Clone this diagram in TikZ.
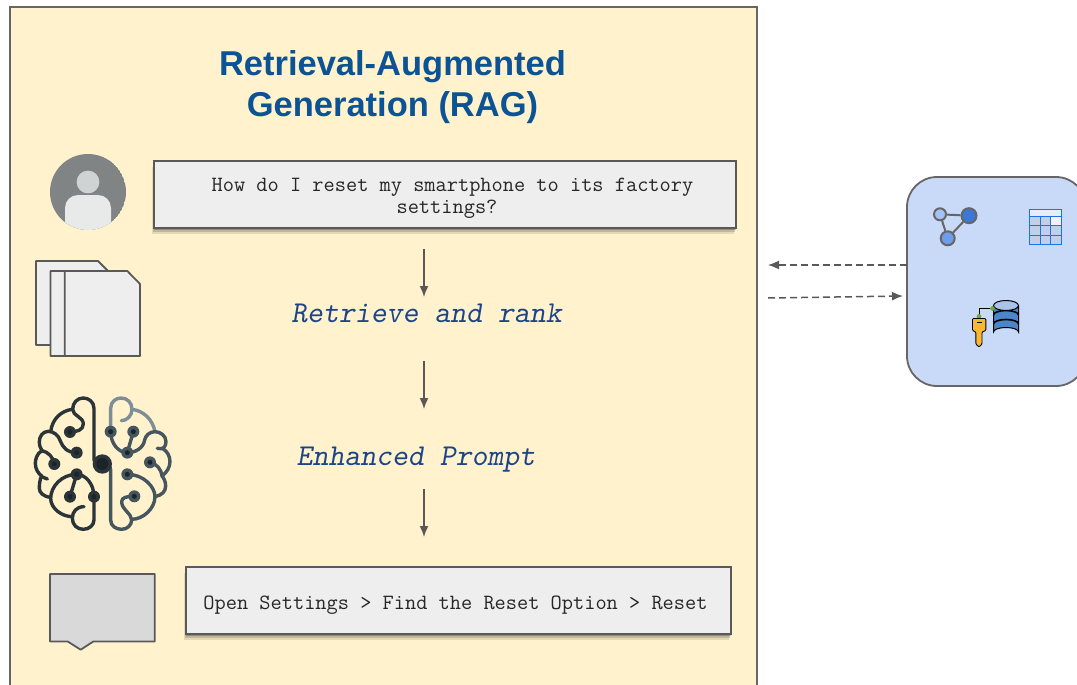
\documentclass[tikz,border=0pt]{standalone}
\usepackage{fontspec}
\setmainfont{Liberation Sans}
\usepackage{xcolor}
\usetikzlibrary{arrows.meta, shadows}
\definecolor{panelfill}{HTML}{FFF2CC}
\definecolor{storefill}{HTML}{C9DAF8}
\definecolor{edgegray}{HTML}{595959}
\definecolor{boxfill}{HTML}{EEEEEE}
\definecolor{titleblue}{HTML}{0B5394}
\definecolor{stepblue}{HTML}{1C4587}
\definecolor{brainA}{HTML}{2B3438}
\definecolor{brainB}{HTML}{46565F}
\definecolor{brainC}{HTML}{7D8E99}
\definecolor{braindot}{HTML}{1B2428}
\definecolor{tableblue}{HTML}{1A73E8}
\definecolor{avatargray}{HTML}{808484}
\definecolor{avatarhead}{HTML}{D0D3D3}
\definecolor{avatarbody}{HTML}{E8EAEA}
\definecolor{nodelight}{HTML}{A4C2F4}
\definecolor{nodemid}{HTML}{6D9EEB}
\definecolor{nodedark}{HTML}{3C78D8}
\definecolor{keyyellow}{HTML}{FAB832}
\definecolor{dbblue}{HTML}{4A86C8}
\definecolor{dbtop}{HTML}{A8C4E8}
\definecolor{cellblue}{HTML}{C1D0E8}
\definecolor{plug}{HTML}{6AA84F}
\tikzset{
    softshadow/.style={
        drop shadow={shadow xshift=-.5pt,shadow yshift=-1.5pt,opacity=.22,fill=black},
        drop shadow={shadow xshift=-1.5pt,shadow yshift=-3.5pt,opacity=.16,fill=black},
        drop shadow={shadow xshift=-2.5pt,shadow yshift=-6pt,opacity=.10,fill=black}
    },
    textbox/.style={draw=edgegray,line width=1.8pt,fill=boxfill,softshadow,
        font=\ttfamily\fontsize{21.75}{22}\selectfont,text=black!85,align=center,inner sep=0pt},
    steplabel/.style={font=\ttfamily\slshape\fontsize{30.3}{30}\selectfont,text=stepblue},
    flowarrow/.style={draw=edgegray,line width=1.5pt,-{Latex[length=11pt,width=9pt]}},
    dashflow/.style={draw=edgegray,line width=1.5pt,dash pattern=on 7pt off 4pt,-{Latex[length=11pt,width=9pt]}},
    page/.style={draw=edgegray,line width=1.8pt,fill=boxfill,line join=round},
    gnode/.style={circle,draw=black!60,line width=2pt,inner sep=0pt},
    gedge/.style={draw=black!60,line width=2pt},
    brainpath/.style={line width=3.4pt,line cap=round,line join=round},
    tablecell/.style={draw=tableblue,line width=1.2pt}
}
\begin{document}
\begin{tikzpicture}[x=1pt,y=-1pt]
\useasboundingbox (0,0) rectangle (1077,685);
\clip (0,0) rectangle (1077,685);

% Panels
\fill[white] (0,0) rectangle (1077,685);
\draw[draw=black!60,line width=1.8pt,fill=panelfill] (10,7) rectangle (757,705);
\draw[draw=black!60,line width=1.8pt,fill=storefill,rounded corners=30pt] (907,177) rectangle (1086,386);

% Title and boxes
\node[font=\bfseries\fontsize{34.5}{41}\selectfont,text=titleblue,align=center] (title) at (392.5,87) {Retrieval-Augmented\\Generation (RAG)};
\node[textbox,minimum width=582pt,minimum height=67pt,text height=41.6pt,text depth=4.6pt] (ask) at (445,194.5) {\hspace*{15pt}How do I reset my smartphone to its factory\\\hspace*{4pt}settings?};
\node[steplabel] (retrieve) at (426.5,313) {Retrieve and rank};
\node[steplabel] (enhanced) at (416,459.5) {Enhanced Prompt};
\node[textbox,minimum width=545pt,minimum height=67pt,text height=22pt,text depth=4.6pt] (answer) at (458.5,600.5) {\hspace*{-6pt}Open Settings > Find the Reset Option > Reset};

% Arrows
\coordinate (flowa) at (424,249);
\coordinate (flowb) at (424,297);
\coordinate (flowc) at (424,361);
\coordinate (flowd) at (424,409);
\coordinate (flowe) at (424,489);
\coordinate (flowf) at (424,537);
\draw[flowarrow](flowa)--(flowb);
\draw[flowarrow](flowc)--(flowd);
\draw[flowarrow](flowe)--(flowf);
\coordinate (storeout) at (907,265);
\coordinate (panelin) at (768,265);
\coordinate (panelout) at (768,298);
\coordinate (storein) at (903,296);
\draw[dashflow](storeout)--(panelin);
\draw[dashflow](panelout)--(storein);

% User icon
\begin{scope}
\clip (88,192) circle (38);
\fill[avatargray] (88,192) circle (38);
\fill[avatarbody,rounded corners=13pt] (65,240) -- (65,195) -- (111,195) -- (111,240) -- cycle;
\end{scope}
\fill[avatarhead] (88,182) circle (11.4);

% Documents
\draw[page] (36,261) -- (98,261) -- (111,274) -- (111,345) -- (36,345) -- cycle;
\draw[page] (50.5,271) -- (113,271) -- (125.5,284) -- (125.5,356) -- (50.5,356) -- cycle;
\draw[page] (64.7,271) -- (127.3,271) -- (140,284) -- (140,356) -- (64.7,356) -- cycle;

% Brain
\begin{scope}[shift={(20,380)},x=0.3333pt,y=-0.3333pt]
\draw[brainpath,brainA] (222,350) -- (222,420) .. controls (222,435) and (208,448) .. (190,448) .. controls (172,448) and (157,435) .. (157,415) .. controls (157,395) and (170,380) .. (192,380);
\draw[brainpath,brainA] (222,350) .. controls (222,310) and (195,283) .. (170,283) .. controls (125,283) and (92,320) .. (92,355) .. controls (92,385) and (125,410) .. (157,410);
\draw[brainpath,brainA] (170,283) -- (150,350);
\draw[brainpath,brainA] (247,252) .. controls (232,252) and (222,248) .. (222,238) -- (222,85) .. controls (222,65) and (205,54) .. (190,54) .. controls (172,54) and (158,68) .. (158,88) .. controls (158,108) and (190,110) .. (190,132) .. controls (190,150) and (170,156) .. (150,156);
\draw[brainpath,brainA] (157,88) .. controls (125,92) and (97,115) .. (92,155);
\draw[brainpath,brainA] (170,218) .. controls (140,218) and (128,200) .. (122,185) .. controls (116,165) and (100,154) .. (85,154) .. controls (68,154) and (58,170) .. (58,185) .. controls (58,198) and (62,205) .. (66,212);
\draw[brainpath,brainA] (66,212) .. controls (50,220) and (46,240) .. (46,250) .. controls (46,268) and (55,280) .. (65,288) .. controls (58,300) and (58,320) .. (58,325) .. controls (58,338) and (70,350) .. (92,352);
\draw[brainpath,brainA] (65,290) -- (82,297);
\draw[brainpath,brainA] (66,212) .. controls (85,216) and (100,232) .. (103,252);
\draw[brainpath,brainB] (247,252) .. controls (262,252) and (272,258) .. (272,270) -- (272,420) .. controls (272,438) and (288,448) .. (305,448) .. controls (322,448) and (335,435) .. (335,420) .. controls (335,400) and (305,390) .. (305,365) .. controls (305,352) and (320,349) .. (343,349);
\draw[brainpath,brainB] (322,283) .. controls (370,283) and (405,320) .. (405,350) .. controls (405,385) and (370,418) .. (335,418);
\draw[brainpath,brainB] (405,350) .. controls (425,346) and (437,335) .. (437,318) .. controls (437,305) and (432,295) .. (426,288) .. controls (440,278) and (450,262) .. (450,245) .. controls (450,228) and (442,215) .. (430,207);
\draw[brainpath,brainB] (390,247) .. controls (410,250) and (425,270) .. (426,288);
\draw[brainpath,brainC] (272,155) -- (272,85) .. controls (272,65) and (288,54) .. (303,54) .. controls (322,54) and (336,68) .. (336,88) .. controls (336,108) and (320,122) .. (304,122);
\draw[brainpath,brainC] (336,88) .. controls (370,92) and (398,118) .. (405,155);
\draw[brainpath,brainB] (412,205) .. controls (430,210) and (438,200) .. (438,185) .. controls (438,168) and (422,155) .. (405,155) .. controls (388,155) and (376,168) .. (374,180) .. controls (370,205) and (345,218) .. (322,218);
\draw[brainpath,brainB] (272,155) .. controls (272,190) and (295,218) .. (322,218);
\draw[brainpath,brainB] (322,218) -- (340,155);
\foreach \dotx/\doty/\dotcol in {150/156/brainA,170/218/brainA,103/252/brainA,170/283/brainA,150/350/brainA,222/350/brainA,272/155/brainB,340/155/brainB,322/218/brainB,390/247/brainB,322/283/brainB,343/349/brainB}{
    \fill[\dotcol] (\dotx,\doty) circle (18);
    \fill[braindot] (\dotx,\doty) circle (7.5);
}
\fill[brainA] (247,252) circle (29);
\fill[braindot] (247,252) circle (18);
\end{scope}

% Reply bubble
\draw[draw=edgegray,line width=1.8pt,fill=black!15,line join=round] (50,574) -- (154.7,574) -- (154.7,641.5) -- (93.3,641.5) -- (80.7,649.7) -- (67.7,641.5) -- (50,641.5) -- cycle;

% Graph icon
\node[gnode,fill=nodelight,minimum size=12pt] (ga) at (940,214.3){};
\node[gnode,fill=nodedark,minimum size=15pt] (gb) at (969,215.7){};
\node[gnode,fill=nodemid,minimum size=14pt] (gc) at (947.7,238.3){};
\draw[gedge](ga)--(gb);
\draw[gedge](gb)--(gc);
\draw[gedge](gc)--(ga);

% Table icon
\fill[blue!8] (1029.5,209.5) rectangle (1061.5,216.5);
\foreach \colx in {0,1,2}{
    \foreach \rowy in {0,1,2}{
        \draw[tablecell,fill=cellblue] (1029.5+\colx*10.67,216.5+\rowy*9.33) rectangle (1029.5+\colx*10.67+10.67,216.5+\rowy*9.33+9.33);
    }
}
\draw[tablecell,fill=blue!5] (1050.83,216.5) rectangle (1061.5,225.83);
\draw[draw=tableblue,line width=1.5pt] (1029.5,209.5) rectangle (1061.5,244.5);

% Key and database
\draw[draw=black,line width=1pt] (979,317) -- (979,308.5) -- (993,308.5);
\draw[draw=black,line width=1pt,fill=dbblue] (993.5,306) -- (993.5,332) arc[x radius=12.5,y radius=4.5,start angle=180,end angle=360] -- (1018.5,306) -- cycle;
\draw[draw=black,line width=1.6pt] (993.5,315) arc[x radius=12.5,y radius=4.5,start angle=180,end angle=360];
\draw[draw=black,line width=1.6pt] (993.5,324) arc[x radius=12.5,y radius=4.5,start angle=180,end angle=360];
\draw[draw=black,line width=1pt,fill=dbtop] (1006,305.5) ellipse (12.5 and 5);
\fill[plug] (979,316.5) circle (2.4);
\fill[plug] (992.5,308.5) circle (2.4);
\draw[draw=black,line width=.9pt,fill=keyyellow,rounded corners=1pt] (972.5,318.5) -- (985.8,318.5) -- (985.8,330.5) -- (982,332) -- (982,344) -- (979,347) -- (975.8,344) -- (975.8,332) -- (972.5,330.5) -- cycle;
\draw[draw=black,line width=1pt] (976.5,322.5) -- (981.5,322.5);

\end{tikzpicture}
\end{document}
